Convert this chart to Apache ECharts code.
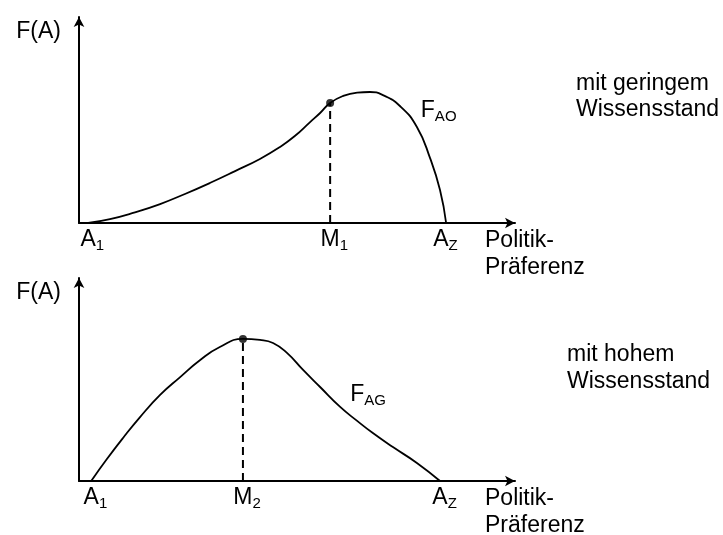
<!DOCTYPE html>
<html>
<head>
<meta charset="utf-8">
<title>F(A) – Politik-Präferenz</title>
<script src="https://cdn.jsdelivr.net/npm/echarts@6/dist/echarts.min.js"></script>
<style>
  html, body { margin: 0; padding: 0; background: #fff; }
  #chart { width: 723px; height: 535px; }
</style>
</head>
<body>
<div id="chart"></div>
<script>
// === oben: geringer Wissensstand (F_AO) ===
const xTop = [2.1, 7.1, 12.4, 18.6, 24.3, 30.0, 35.8, 41.5, 46.1, 49.5, 53.0, 55.3, 57.6, 60.6, 63.8, 66.7, 69.7, 73.6, 77.5, 80.5, 82.8, 84.2]
const yTop = [0, 1.9, 4.9, 9.2, 14.1, 19.4, 25.2, 31.1, 36.9, 42.2, 49.0, 53.4, 58.3, 61.7, 63.3, 63.6, 62.1, 56.8, 46.6, 31.6, 16.0, 0]
const dotTop = [57.6, 58.3]
const ticksTop = [2.1, 57.6, 83.0]
const tickLabelsTop = [['A', '1'], ['M', '1'], ['A', 'Z']]
const curveLabelTop = ['F', 'AO']
const curveLabelPosTop = [78.4, 54.4]

// === unten: hoher Wissensstand (F_AG) ===
const xBottom = [2.8, 6.4, 10.1, 14.0, 18.6, 23.2, 27.8, 32.3, 37.6, 41.5, 44.5, 47.7, 51.4, 55.3, 59.9, 63.8, 67.4, 72.0, 77.5, 82.8]
const yBottom = [0, 10.8, 21.2, 31.5, 42.4, 51.2, 59.6, 66.0, 70.0, 69.5, 68.0, 63.1, 54.7, 46.3, 36.5, 29.6, 23.6, 16.7, 8.9, 0]
const dotBottom = [37.6, 70.0]
const ticksBottom = [2.8, 37.6, 82.8]
const tickLabelsBottom = [['A', '1'], ['M', '2'], ['A', 'Z']]
const curveLabelBottom = ['F', 'AG']
const curveLabelPosBottom = [62.2, 42.4]

const sideTexts = ['mit geringem\nWissensstand', 'mit hohem\nWissensstand']
const yName = 'F(A)'
const xName = 'Politik-\nPräferenz'

const FONT = 'Liberation Sans, Arial, sans-serif'
const INK = '#000'

// Rich-Text für Index-Schreibweise (h = unsichtbarer Platzhalter, damit der Buchstabe mittig sitzt)
const rich = {
  h: { fontSize: 15, color: 'rgba(0,0,0,0)', fontFamily: FONT },
  b: { fontSize: 23, color: INK, fontFamily: FONT },
  s: { fontSize: 15, color: INK, fontFamily: FONT, padding: [12, 0, 0, 0] }
}

const zip = (xs, ys) => xs.map((x, i) => [x, ys[i]])

const makeXAxis = (gridIndex, ticks, labels) => ({
  type: 'value',
  gridIndex,
  min: 0,
  max: 100,
  name: xName,
  nameLocation: 'end',
  nameGap: -30,
  nameMoveOverlap: false,
  nameTextStyle: {
    align: 'left', verticalAlign: 'top', fontSize: 23, lineHeight: 27,
    color: INK, fontFamily: FONT, padding: [4, 0, 0, 0]
  },
  axisLine: { show: true, symbol: ['none', 'arrow'], symbolSize: [8, 10], lineStyle: { color: INK, width: 2 } },
  axisTick: { show: false },
  splitLine: { show: false },
  axisLabel: {
    customValues: ticks,
    margin: 3,
    rich,
    formatter: (v) => {
      const i = ticks.findIndex(t => Math.abs(t - v) < 1e-6)
      if (i < 0) return ''
      const [main, sub] = labels[i]
      return `{h|${sub}}{b|${main}}{s|${sub}}`
    }
  }
})

const makeYAxis = (gridIndex) => ({
  type: 'value',
  gridIndex,
  min: 0,
  max: 100,
  name: yName,
  nameLocation: 'end',
  nameGap: -15,
  nameMoveOverlap: false,
  nameTextStyle: {
    align: 'right', verticalAlign: 'middle', fontSize: 23,
    color: INK, fontFamily: FONT, padding: [0, 18, 0, 0]
  },
  axisLine: { show: true, symbol: ['none', 'arrow'], symbolSize: [8, 10], lineStyle: { color: INK, width: 2 } },
  axisTick: { show: false },
  axisLabel: { show: false },
  splitLine: { show: false }
})

const curveSeries = (idx, xs, ys, text, pos) => ({
  type: 'line',
  xAxisIndex: idx,
  yAxisIndex: idx,
  data: zip(xs, ys),
  smooth: 0.5,
  showSymbol: false,
  silent: true,
  lineStyle: { color: INK, width: 1.8 },
  markPoint: {
    symbol: 'circle',
    symbolSize: 0,
    silent: true,
    data: [{
      coord: pos,
      label: {
        show: true,
        position: 'right',
        distance: 0,
        rich,
        formatter: `{b|${text[0]}}{s|${text[1]}}`
      }
    }]
  }
})

const dashSeries = (idx, dot) => ({
  type: 'line',
  xAxisIndex: idx,
  yAxisIndex: idx,
  data: [[dot[0], 0], dot],
  showSymbol: false,
  silent: true,
  lineStyle: { color: INK, width: 2, type: [8, 5] }
})

const dotSeries = (idx, dot) => ({
  type: 'scatter',
  xAxisIndex: idx,
  yAxisIndex: idx,
  data: [dot],
  symbolSize: 8,
  silent: true,
  z: 5,
  itemStyle: { color: INK }
})

const chart = echarts.init(document.getElementById('chart'), null, { renderer: 'canvas' })

chart.setOption({
  backgroundColor: '#fff',
  animation: false,
  textStyle: { fontFamily: FONT },
  title: [
    { text: sideTexts[0], left: 576, top: 71, padding: 0,
      textStyle: { fontSize: 23, fontWeight: 'normal', lineHeight: 26, color: INK, fontFamily: FONT } },
    { text: sideTexts[1], left: 567, top: 341, padding: 0,
      textStyle: { fontSize: 23, fontWeight: 'normal', lineHeight: 27, color: INK, fontFamily: FONT } }
  ],
  grid: [
    { left: 79, top: 17, width: 436, height: 206, outerBoundsMode: 'none' },
    { left: 79, top: 278, width: 436, height: 203, outerBoundsMode: 'none' }
  ],
  xAxis: [makeXAxis(0, ticksTop, tickLabelsTop), makeXAxis(1, ticksBottom, tickLabelsBottom)],
  yAxis: [makeYAxis(0), makeYAxis(1)],
  series: [
    curveSeries(0, xTop, yTop, curveLabelTop, curveLabelPosTop),
    dashSeries(0, dotTop),
    dotSeries(0, dotTop),
    curveSeries(1, xBottom, yBottom, curveLabelBottom, curveLabelPosBottom),
    dashSeries(1, dotBottom),
    dotSeries(1, dotBottom)
  ]
})

window.addEventListener('resize', () => chart.resize())
</script>
</body>
</html>
